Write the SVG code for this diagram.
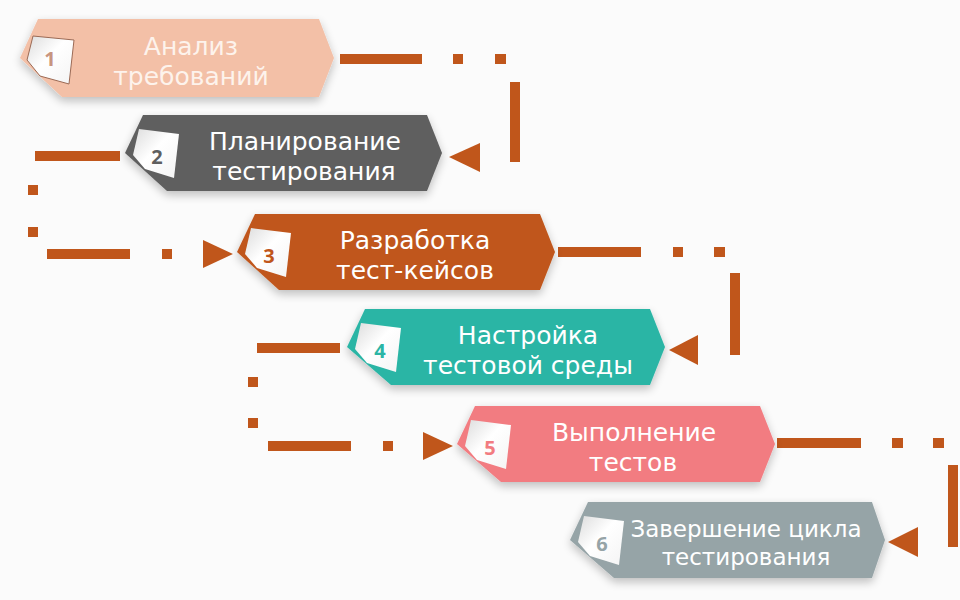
<svg xmlns="http://www.w3.org/2000/svg" width="960" height="600" viewBox="0 0 960 600">
  <defs>
    <filter id="sh" x="-10%" y="-30%" width="120%" height="160%">
      <feGaussianBlur in="SourceAlpha" stdDeviation="5"/>
      <feOffset dx="0" dy="4" result="b"/>
      <feComponentTransfer><feFuncA type="linear" slope="0.25"/></feComponentTransfer>
      <feMerge><feMergeNode/><feMergeNode in="SourceGraphic"/></feMerge>
    </filter>
    <linearGradient id="pg" x1="0" y1="0" x2="1" y2="1">
      <stop offset="0" stop-color="#dcdcdc"/>
      <stop offset="0.45" stop-color="#ffffff"/>
      <stop offset="1" stop-color="#f4f4f4"/>
    </linearGradient>
  </defs>
  <style>
    .lbl { font-family: "DejaVu Sans", "Open Sans", sans-serif; font-size: 25px; fill: #ffffff; text-anchor: middle; }
    .sm { font-size: 23px; }
    .num { font-family: "Open Sans", "Noto Sans", "DejaVu Sans", sans-serif; font-size: 20px; font-weight: bold; text-anchor: middle; }
    .pent { fill: url(#pg); }
    .con { fill: #c0561b; }
  </style>
  <rect width="960" height="600" fill="#fbfbfb"/>

  <g id="connectors" class="con">
    <g id="c1-2">
      <rect x="340" y="54" width="82" height="10"/>
      <rect x="453" y="54" width="10" height="10"/>
      <rect x="495" y="54" width="11" height="10"/>
      <rect x="510" y="82" width="10" height="80"/>
      <polygon points="449,157 480,143 480,172"/>
    </g>
    <g id="c2-3">
      <rect x="35" y="151" width="85" height="10"/>
      <rect x="28" y="185" width="10" height="10"/>
      <rect x="28" y="227" width="10" height="10"/>
      <rect x="47" y="249" width="83" height="10"/>
      <rect x="162" y="249" width="10" height="10"/>
      <polygon points="233,254 203,240 203,268"/>
    </g>
    <g id="c3-4">
      <rect x="558" y="247" width="83" height="10"/>
      <rect x="673" y="247" width="10" height="10"/>
      <rect x="714" y="247" width="11" height="10"/>
      <rect x="730" y="273" width="10" height="82"/>
      <polygon points="669,350 698,335 698,365"/>
    </g>
    <g id="c4-5">
      <rect x="257" y="343" width="83" height="10"/>
      <rect x="248" y="377" width="10" height="10"/>
      <rect x="248" y="418" width="10" height="10"/>
      <rect x="268" y="441" width="83" height="10"/>
      <rect x="383" y="441" width="10" height="10"/>
      <polygon points="453,446 423,432 423,460"/>
    </g>
    <g id="c5-6">
      <rect x="777" y="438" width="84" height="10"/>
      <rect x="892" y="438" width="11" height="10"/>
      <rect x="933" y="438" width="11" height="10"/>
      <rect x="948" y="465" width="10" height="82"/>
      <polygon points="888,542 918,527 918,557"/>
    </g>
  </g>

  <g id="node1">
    <polygon filter="url(#sh)" fill="#f3c0a7" points="20,58 38,19 319,19 334,58 319,97 62,97"/>
    <polygon class="pent" stroke="#9b6a55" stroke-width="1" points="33,36 74,40 69,84 40,76 27,60"/>
    <text class="num" x="50" y="66" fill="#c89580">1</text>
    <text class="lbl" style="fill:#fdf3ec"><tspan x="191" y="55">Анализ</tspan><tspan x="191" y="84.5">требований</tspan></text>
  </g>

  <g id="node2">
    <polygon filter="url(#sh)" fill="#5f5f5f" points="125,153 143,115 427,115 442,153 427,191 167,191"/>
    <polygon class="pent" points="139,129 179,134 174,178 145,169 133,155"/>
    <text class="num" x="157" y="164" fill="#5f5f5f">2</text>
    <text class="lbl"><tspan x="305" y="150">Планирование</tspan><tspan x="304" y="179.5">тестирования</tspan></text>
  </g>

  <g id="node3">
    <polygon filter="url(#sh)" fill="#c0561b" points="237,252 255,214 540,214 555,252 540,290 279,290"/>
    <polygon class="pent" points="251,228 291,233 286,277 257,268 245,254"/>
    <text class="num" x="269" y="263" fill="#c0561b">3</text>
    <text class="lbl"><tspan x="415" y="249">Разработка</tspan><tspan x="415" y="278.5">тест-кейсов</tspan></text>
  </g>

  <g id="node4">
    <polygon filter="url(#sh)" fill="#2bb5a5" points="347,347 365,309 650,309 665,347 650,385 391,385"/>
    <polygon class="pent" points="361,323 401,328 396,372 367,363 355,349"/>
    <text class="num" x="380" y="358" fill="#2bb5a5">4</text>
    <text class="lbl"><tspan x="528" y="344">Настройка</tspan><tspan x="528" y="373.5">тестовой среды</tspan></text>
  </g>

  <g id="node5">
    <polygon filter="url(#sh)" fill="#f27c81" points="457,444 475,406 760,406 775,444 760,482 501,482"/>
    <polygon class="pent" points="471,420 511,425 506,469 477,460 465,446"/>
    <text class="num" x="490" y="455" fill="#f27c81">5</text>
    <text class="lbl"><tspan x="634" y="441">Выполнение</tspan><tspan x="633" y="470.5">тестов</tspan></text>
  </g>

  <g id="node6">
    <polygon filter="url(#sh)" fill="#96a4a7" points="570,540 588,502 872,502 885,540 872,578 614,578"/>
    <polygon class="pent" points="584,516 624,521 619,565 590,556 578,542"/>
    <text class="num" x="602" y="551" fill="#96a4a7">6</text>
    <text class="lbl sm"><tspan x="746" y="537">Завершение цикла</tspan><tspan x="746" y="565">тестирования</tspan></text>
  </g>
</svg>
